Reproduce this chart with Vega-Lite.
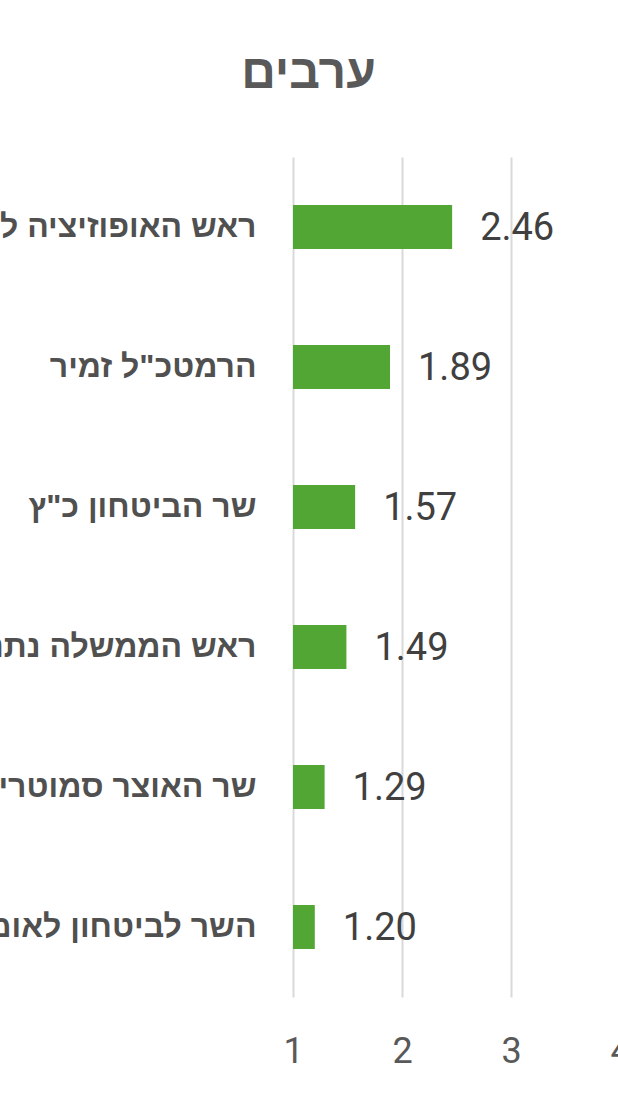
{
  "$schema": "https://vega.github.io/schema/vega-lite/v6.json",
  "autosize": {"type": "none"},
  "padding": {"left": 293, "top": 157, "right": 0, "bottom": 107},
  "width": 327,
  "height": 840,
  "background": "white",
  "title": {
    "text": "ערבים",
    "font": "Liberation Sans",
    "fontSize": 48,
    "fontWeight": "bold",
    "color": "#595959",
    "anchor": "middle",
    "dx": -148,
    "offset": 59
  },
  "data": {
    "values": [
      {"name": "ראש האופוזיציה לפיד", "value": 2.46},
      {"name": "הרמטכ\"ל זמיר", "value": 1.89},
      {"name": "שר הביטחון כ\"ץ", "value": 1.57},
      {"name": "ראש הממשלה נתניהו", "value": 1.49},
      {"name": "שר האוצר סמוטריץ׳", "value": 1.29},
      {"name": "השר לביטחון לאומי בן גביר", "value": 1.20}
    ]
  },
  "encoding": {
    "y": {
      "field": "name",
      "type": "nominal",
      "sort": null,
      "title": null,
      "scale": {"paddingInner": 0, "paddingOuter": 0},
      "axis": {
        "domain": false,
        "ticks": false,
        "grid": false,
        "labelFont": "Liberation Sans",
        "labelFontSize": 32,
        "labelFontWeight": "bold",
        "labelColor": "#505050",
        "labelPadding": 37,
        "labelLimit": 0
      }
    },
    "x": {
      "field": "value",
      "type": "quantitative",
      "title": null,
      "scale": {"domain": [1, 4], "zero": false, "nice": false},
      "axis": {
        "values": [1, 2, 3, 4],
        "domain": false,
        "ticks": false,
        "grid": true,
        "gridColor": "#d9d9d9",
        "gridWidth": 2,
        "labelFont": "Roboto",
        "labelFontSize": 36,
        "labelColor": "#595959",
        "labelPadding": 37,
        "labelFlush": false
      }
    }
  },
  "layer": [
    {
      "mark": {"type": "bar", "color": "#52a634", "size": 44},
      "encoding": {"x2": {"datum": 1}}
    },
    {
      "mark": {
        "type": "text",
        "align": "left",
        "baseline": "middle",
        "dx": 28,
        "dy": 2,
        "font": "Roboto",
        "fontSize": 38,
        "color": "#404040"
      },
      "encoding": {
        "text": {"field": "value", "type": "quantitative", "format": ".2f"}
      }
    }
  ],
  "config": {"view": {"stroke": null}}
}
